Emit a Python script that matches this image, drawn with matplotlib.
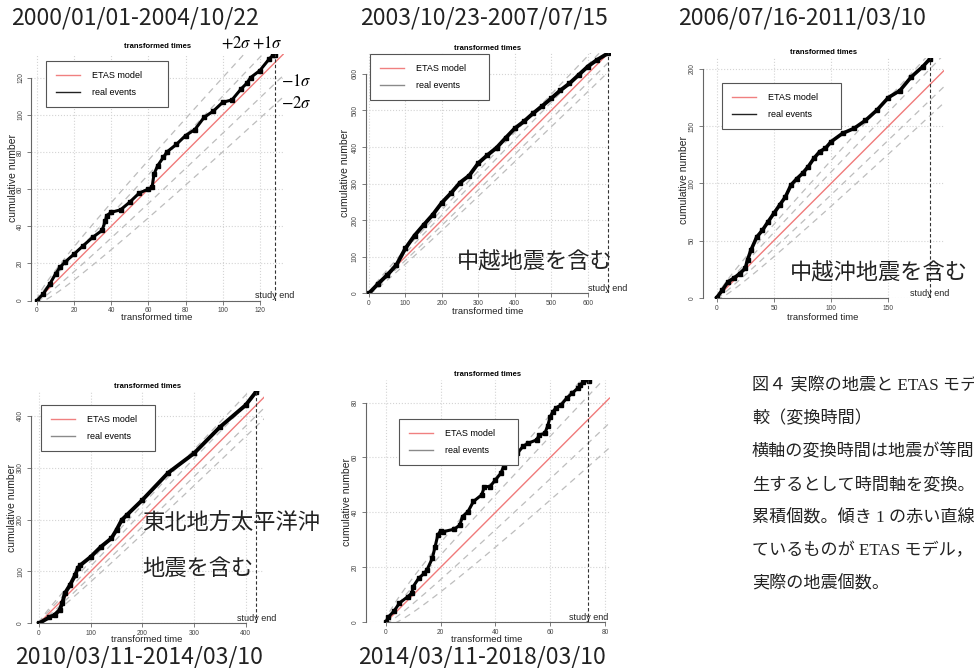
import matplotlib.pyplot as plt
import numpy as np
from matplotlib.lines import Line2D

# real events (transformed time, cumulative number)
p1_x = [0, 3.4, 7, 10, 12.4, 15, 20, 25, 30, 35, 36.9, 37.5, 40, 45, 50, 55, 60, 62, 63, 65,
        68, 70, 75, 80, 85, 90, 95, 100, 105, 110, 113, 115, 120, 125, 127, 128]
p1_y = [0, 3.6, 9, 14.3, 17.9, 20.6, 25, 29.6, 34, 37.7, 43, 45.7, 47.5, 48.8, 53, 57.8, 60, 61, 68, 72.6,
        77, 80, 84, 88.8, 92, 98.6, 102, 106.7, 108, 114, 117, 120, 123.8, 130, 132, 132]

p2_x = [0, 25, 50, 75, 100, 125, 150, 175, 200, 225, 250, 275, 300, 325, 350, 375, 400,
        425, 450, 475, 500, 525, 550, 575, 600, 625, 655]
p2_y = [0, 26, 50, 77, 123, 158, 187, 215, 248, 274, 303, 322, 356, 378, 398, 425, 451,
        470, 492, 512, 533, 555, 574, 597, 620, 638, 656]

p3_x = [0, 5, 10, 15, 20, 25, 27, 30, 35, 40, 45, 50, 55, 60, 65, 70, 75, 80, 85, 90, 95,
        100, 110, 120, 130, 140, 150, 160, 170, 180, 186]
p3_y = [0, 6.7, 14, 17, 21, 25.7, 33, 41.7, 53, 59, 66.5, 73.8, 81, 88, 98.6, 104, 108.7, 114.6, 121.9, 127.7, 130.6,
        136.4, 143.7, 148, 155, 164, 175, 181, 193, 202, 208.5]

p4_x = [0, 20, 30, 40, 45, 50, 60, 70, 75, 80, 100, 120, 140, 150, 160, 170, 200, 250, 300, 350, 400, 420]
p4_y = [0, 11.6, 16, 25.7, 38.5, 57.8, 73.8, 93, 106, 112, 128, 147.7, 163.7, 180, 199, 208.7, 237.6,
        290, 327.5, 378, 420.5, 446]

p5_x = [0, 1, 3, 5, 8, 9.5, 10, 12, 14, 15, 17, 18, 19, 20, 21, 25, 27, 28, 30, 32, 35, 36, 38, 40,
        42, 43, 45, 48, 50, 52, 55, 56, 58, 59, 60, 61, 62, 64, 66, 68, 70, 71, 72, 74]
p5_y = [0, 2, 4, 7, 9.3, 10.6, 13, 16, 17.8, 19, 23.3, 27.5, 31.8, 33.3, 33, 33.9, 35.4, 38.5, 40.3, 44, 46.4, 49.4, 49.4, 51.8,
        54.3, 56.7, 60.3, 61.5, 64, 65.2, 66.4, 68.2, 68.8, 71.3, 74.9, 76.7, 78, 79.2, 81.6, 83.4, 85.2, 86.4, 87.6, 88]

study_end = [128, 655, 186.4, 420.6, 73.9]
x_ticks = [range(0, 121, 20), range(0, 601, 100), range(0, 151, 50), range(0, 401, 100), range(0, 81, 20)]
y_ticks = [range(0, 121, 20), range(0, 601, 100), range(0, 201, 50), range(0, 401, 100), range(0, 81, 20)]
periods = ["2000/01/01-2004/10/22", "2003/10/23-2007/07/15", "2006/07/16-2011/03/10",
           "2010/03/11-2014/03/10", "2014/03/11-2018/03/10"]
sigma_k = [2, 1, -1, -2]

caption = ["図４ 実際の地震と ETAS モデ", "較（変換時間）", "横軸の変換時間は地震が等間",
           "生するとして時間軸を変換。", "累積個数。傾き 1 の赤い直線", "ているものが ETAS モデル，",
           "実際の地震個数。"]

events_x = [p1_x, p2_x, p3_x, p4_x, p5_x]
events_y = [p1_y, p2_y, p3_y, p4_y, p5_y]

W, H = 974, 668
plt.rcParams["font.family"] = ["Liberation Sans", "Noto Sans CJK JP"]
plt.rcParams["mathtext.fontset"] = "stix"
fig = plt.figure(figsize=(W / 100, H / 100), dpi=100)


def fx(px):
    return px / W


def fy(py):
    return 1 - py / H


# layout in pixels: axes box (L, R, T, B), xlim, ylim, legend box, title y, xlabel, ylabel, period label
layout = [
    dict(box=(31, 284, 54, 300.5), xlim=(-3.2, 133), ylim=(0, 132.7), leg=(46, 168, 61, 108),
         title=47, xl=(157, 318), yl=(13, 178), per=(135, 18), legc="#222222", lw=2.2),
    dict(box=(365.7, 610.3, 52.7, 293.3), xlim=(-9, 662), ylim=(0, 658), leg=(370, 489, 54, 100),
         title=48, xl=(488, 312), yl=(345, 173), per=(484, 18), legc="#8a8a8a", lw=2.8),
    dict(box=(702.7, 944, 57.5, 297.7), xlim=(-12.2, 198.6), ylim=(0, 210), leg=(722, 841, 83, 129),
         title=52, xl=(823, 317), yl=(684, 180), per=(802, 18), legc="#222222", lw=2.6),
    dict(box=(31, 264.3, 391, 623.3), xlim=(-15.5, 436), ylim=(0, 447.6), leg=(41, 155, 405, 449),
         title=387, xl=(147, 639), yl=(12, 508), per=(139, 657), legc="#8a8a8a", lw=2.8),
    dict(box=(365.7, 609.5, 380, 622.3), xlim=(-7.3, 81.6), ylim=(0, 88.2), leg=(399, 518, 419, 465),
         title=374, xl=(487, 639), yl=(347, 502), per=(482, 657), legc="#8a8a8a", lw=2.2),
]

for i, lay in enumerate(layout):
    L, R, T, B = lay["box"]
    ax = fig.add_axes([fx(L), fy(B), (R - L) / W, (B - T) / H])
    ax.set_xlim(*lay["xlim"])
    ax.set_ylim(*lay["ylim"])
    xt = list(x_ticks[i])
    yt = list(y_ticks[i])
    ax.set_xticks(xt)
    ax.set_yticks(yt)
    ax.grid(True, color="#d4d4d4", linestyle=":", linewidth=0.8)
    ax.set_axisbelow(True)
    for s in ["top", "right"]:
        ax.spines[s].set_visible(False)
    ax.spines["left"].set_bounds(yt[0], yt[-1])
    ax.spines["bottom"].set_bounds(xt[0], xt[-1])
    for s in ["left", "bottom"]:
        ax.spines[s].set_color("#666666")
        ax.spines[s].set_linewidth(0.8)
    ax.tick_params(length=3, width=0.6, color="#666666", labelsize=4.8, labelcolor="#444444", pad=2)
    ax.tick_params(axis="y", labelrotation=90)
    for lab in ax.get_yticklabels():
        lab.set_va("center")

    xs = np.linspace(0, lay["xlim"][1], 300)
    for k in sigma_k:
        ax.plot(xs, xs + k * np.sqrt(xs), color="#bdbdbd", linestyle=(0, (5, 4)), linewidth=0.9)
    ax.plot(xs, xs, color="#f07a7a", linewidth=1.0)
    ax.plot(events_x[i], events_y[i], color="black", linewidth=lay["lw"], marker="s", markersize=2.4)

    ax.axvline(study_end[i], color="#333333", linestyle=(0, (3, 2)), linewidth=0.8)
    ax.text(study_end[i], 0, "study end", ha="center", va="bottom", fontsize=6.5, color="#222222")

    ax.set_title("transformed times", fontsize=5.5, fontweight="bold",
                 y=(B - lay["title"]) / (B - T), pad=0, va="center")
    ax.set_xlabel("transformed time", fontsize=6.8, color="#222222")
    ax.xaxis.label.set_va("center")
    ax.xaxis.set_label_coords(fx(lay["xl"][0]), fy(lay["xl"][1]), transform=fig.transFigure)
    ax.set_ylabel("cumulative number", fontsize=7.5, color="#222222")
    ax.yaxis.label.set_va("center")
    ax.yaxis.set_label_coords(fx(lay["yl"][0]), fy(lay["yl"][1]), transform=fig.transFigure)

    ll, lr, lt, lb = lay["leg"]
    handles = [Line2D([], [], color="#f08080", linewidth=1.0),
               Line2D([], [], color=lay["legc"], linewidth=1.0)]
    leg = ax.legend(handles, ["ETAS model", "real events"], loc="upper left",
                    bbox_to_anchor=(fx(ll), fy(lb), (lr - ll) / W, (lb - lt) / H),
                    bbox_transform=fig.transFigure, mode="expand", fontsize=6.5,
                    borderpad=1.1, labelspacing=0.9, handlelength=2.7, handletextpad=1.3,
                    borderaxespad=0, fancybox=False, edgecolor="#555555", framealpha=1)
    leg.get_frame().set_linewidth(0.8)

    fig.text(fx(lay["per"][0]), fy(lay["per"][1]), periods[i], ha="center", va="center",
             fontsize=16.5, family="Noto Sans CJK JP", color="#222222")

# sigma band labels on first panel
fig.text(fx(236), fy(43), r"$+2\sigma$", ha="center", va="center", fontsize=12)
fig.text(fx(267), fy(43), r"$+1\sigma$", ha="center", va="center", fontsize=12)
fig.text(fx(296), fy(81), r"$-1\sigma$", ha="center", va="center", fontsize=12)
fig.text(fx(296), fy(103), r"$-2\sigma$", ha="center", va="center", fontsize=12)

jp = dict(fontsize=16, family="Noto Sans CJK JP", color="#222222", va="center")
fig.text(fx(535), fy(262), "中越地震を含む", ha="center", **jp)
fig.text(fx(879), fy(273), "中越沖地震を含む", ha="center", **jp)
fig.text(fx(142), fy(523), "東北地方太平洋沖", ha="left", **jp)
fig.text(fx(142), fy(568), "地震を含む", ha="left", **jp)

for j, line in enumerate(caption):
    fig.text(fx(752), fy(386 + 33 * j), line, ha="left", va="center", fontsize=12.3,
             family=["Liberation Serif", "Noto Sans CJK JP"], color="#222222")

fig.savefig("out.png", dpi=100)
